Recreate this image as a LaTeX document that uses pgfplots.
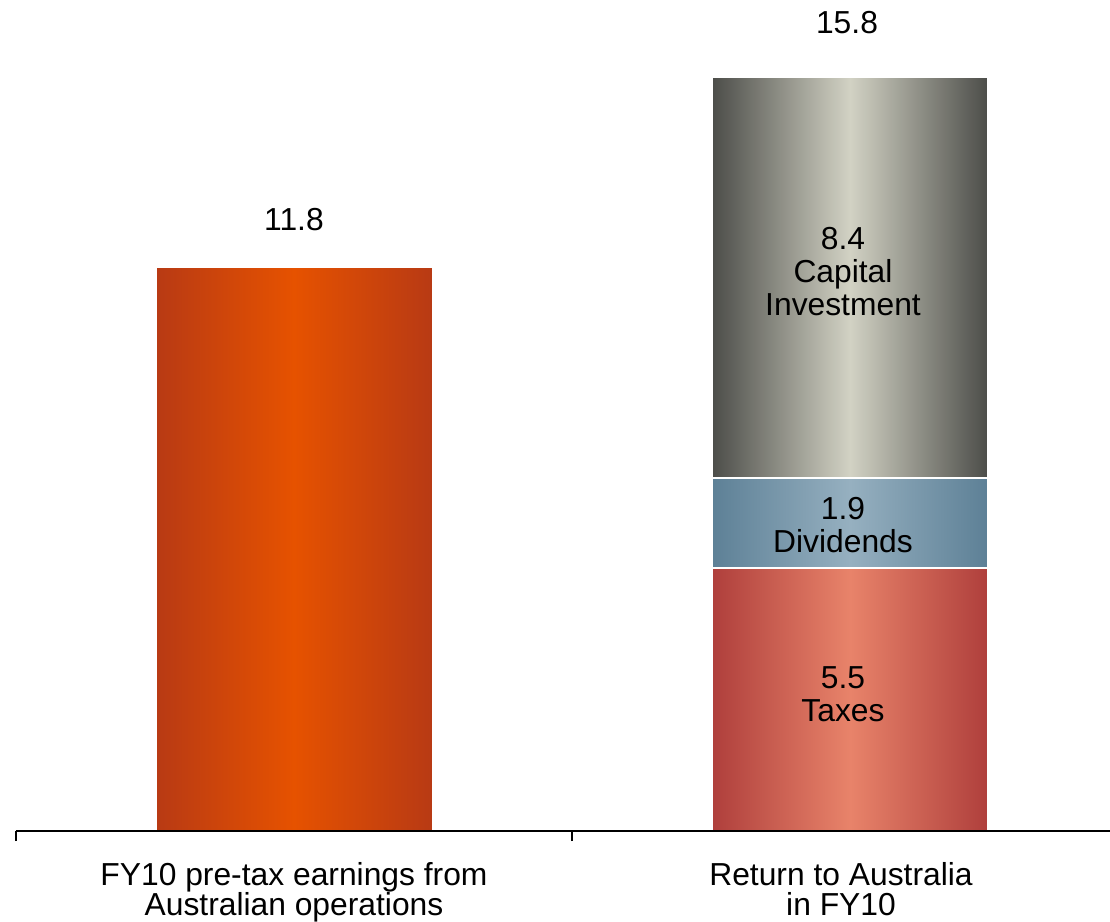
\documentclass[border=0pt]{standalone}
\usepackage{pgfplots}
\pgfplotsset{compat=1.18}
\usepackage{fontspec}
\setmainfont{Liberation Sans}
\definecolor{orE}{RGB}{184,58,20}
\definecolor{orM}{RGB}{230,82,0}
\definecolor{capE}{RGB}{76,77,73}
\definecolor{capM}{RGB}{210,210,196}
\definecolor{divE}{RGB}{93,128,150}
\definecolor{divM}{RGB}{150,176,192}
\definecolor{taxE}{RGB}{175,63,60}
\definecolor{taxM}{RGB}{232,131,106}
\newcommand\lbfont{\fontsize{15.9}{16.5}\selectfont}
\newcommand\tkfont{\fontsize{15.9}{15}\selectfont}
\tikzset{seglabel/.style={anchor=center, align=center, font=\lbfont, text=black, xshift=-3.5pt}}
\begin{document}
\begin{tikzpicture}
\useasboundingbox (-8pt,-45.5pt) rectangle (547pt,415.5pt);
\pgfplotsset{base/.style={at={(0pt,0pt)}, anchor=south west, scale only axis,
  width=556pt, height=415pt, xmin=-0.5, xmax=1.5, ymin=0, ymax=17.39,
  bar width=138pt, clip=false}}
\begin{axis}[base, hide axis, ybar stacked]
\addplot[draw=white, line width=1pt, shade, shading=axis, left color=taxE, right color=taxE, middle color=taxM,
  nodes near coords={5.5\\Taxes},
  every node near coord/.append style={seglabel, yshift=3pt}]
  coordinates {(1,5.5)};
\addplot[draw=white, line width=1pt, shade, shading=axis, left color=divE, right color=divE, middle color=divM,
  nodes near coords={1.9\\Dividends},
  every node near coord/.append style={seglabel, yshift=-1pt}]
  coordinates {(1,1.9)};
\addplot[draw=white, line width=1pt, shade, shading=axis, left color=capE, right color=capE, middle color=capM,
  nodes near coords={8.4\\Capital\\Investment},
  every node near coord/.append style={seglabel, yshift=3pt}]
  coordinates {(1,8.4)};
\end{axis}
\begin{axis}[base, ybar, bar shift=0pt, axis on top,
  axis x line*=bottom, axis y line=none,
  xtick={0,1},
  xticklabels={{FY10 pre-tax earnings from\\Australian operations},
    {Return to Australia\makebox[9pt]{}\\in FY10\makebox[9pt]{}}},
  minor xtick={-0.5,0.5,1.5},
  major tick length=0pt, minor tick length=5pt, tick align=outside,
  major tick style={draw=none},
  minor tick style={black, line width=1pt},
  axis line style={black, line width=1pt},
  xticklabel style={align=center, font=\tkfont, yshift=-12pt}]
\addplot[draw=white, line width=0.5pt, shade, shading=axis, left color=orE, right color=orE, middle color=orM,
  nodes near coords={11.8},
  every node near coord/.append style={anchor=center, yshift=24pt, font=\lbfont, text=black}]
  coordinates {(0,11.8)};
\addplot[draw=none, fill=none,
  nodes near coords={15.8},
  every node near coord/.append style={anchor=center, yshift=27pt, xshift=-1.5pt, font=\lbfont, text=black}]
  coordinates {(1,15.8)};
\end{axis}
\end{tikzpicture}
\end{document}
